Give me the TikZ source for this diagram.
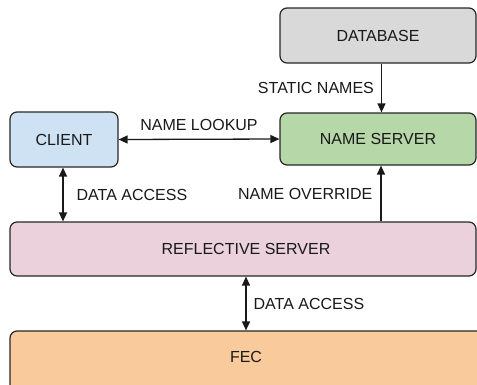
\documentclass[tikz,border=0pt]{standalone}
\usepackage{fontspec}
\setmainfont{Liberation Sans}
\usetikzlibrary{arrows.meta}
\begin{document}
\begin{tikzpicture}[x=1pt,y=-1pt,
  box/.style={draw=black!85,line width=1.2pt,rounded corners=7pt,inner sep=0pt,
    font=\fontsize{16}{19}\selectfont,text=black!90},
  lbl/.style={font=\fontsize{16}{19}\selectfont,text=black!90,inner sep=0pt},
  link/.style={line width=1.3pt,draw=black!90,-{Triangle[length=9pt,width=8pt]}},
  twoway/.style={link,{Triangle[length=9pt,width=8pt]}-{Triangle[length=9pt,width=8pt]}}]
\useasboundingbox (0,0) rectangle (477,384);
\clip (0,0) rectangle (477,384);
\definecolor{dbgray}{HTML}{D9D9D9}
\definecolor{nsgreen}{HTML}{B6D7A8}
\definecolor{clblue}{HTML}{CFE2F3}
\definecolor{rspink}{HTML}{EAD1DC}
\definecolor{fecorange}{HTML}{F9CB9C}
% boxes
\node[box,fill=dbgray,minimum width=196pt,minimum height=55pt] (db) at (378,35.5) {DATABASE};
\node[box,fill=nsgreen,minimum width=196pt,minimum height=52pt] (ns) at (378,139) {NAME SERVER};
\node[box,fill=clblue,minimum width=108pt,minimum height=55pt] (cl) at (64,139.5) {CLIENT};
\node[box,fill=rspink,minimum width=466pt,minimum height=54pt] (rs) at (243,249) {};
\node[lbl] at (246,249) {REFLECTIVE SERVER};
\node[box,fill=fecorange,minimum width=490pt,minimum height=64pt] (fec) at (255,363) {};
\node[lbl] at (246,357) {FEC};
% connectors
\draw[link] (db.south -| 381.5,0) -- (ns.north -| 381.5,0)
  node[midway,left=7pt,lbl] {STATIC NAMES};
\draw[twoway] (cl.east) -- (ns.west)
  node[midway,above=8pt,lbl] {NAME LOOKUP};
\draw[twoway] (cl.south -| 63,0) -- (rs.north -| 63,0)
  node[midway,right=13pt,lbl] {DATA ACCESS};
\draw[link] (rs.north -| 381,0) -- (ns.south -| 381,0)
  node[midway,left=8pt,lbl] {NAME OVERRIDE};
\draw[twoway] (rs.south -| 246,0) -- (fec.north -| 246,0)
  node[midway,right=7pt,lbl] {DATA ACCESS};
\end{tikzpicture}
\end{document}
